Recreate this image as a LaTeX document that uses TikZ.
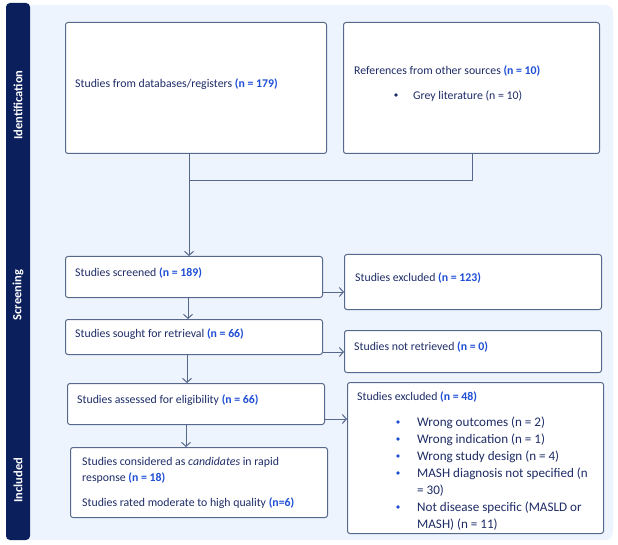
\documentclass[tikz,border=0pt]{standalone}
\usepackage{fontspec}
\setmainfont{Carlito}
\usetikzlibrary{arrows.meta}
\definecolor{navy}{HTML}{0B1F5C}
\definecolor{txt}{HTML}{1E2C66}
\definecolor{nblue}{HTML}{1F4FD6}
\definecolor{edge}{HTML}{56698C}
\definecolor{panel}{HTML}{EEF4FE}
\newcommand{\nv}[1]{\textcolor{nblue}{\bfseries #1}}
\tikzset{
  box/.style={draw=edge, line width=1pt, fill=white, rounded corners=2.5pt, inner sep=0pt, anchor=north west},
  lbl/.style={anchor=west, inner sep=0pt, text=txt, font=\fontsize{11.8}{14}\selectfont, text height=10pt, text depth=1pt},
  lst/.style={lbl, font=\fontsize{13.1}{16}\selectfont, text height=10.5pt, text depth=1pt},
  band/.style={rotate=90, text=white, font=\fontsize{12.5}{14}\selectfont\bfseries, inner sep=0pt},
  conn/.style={draw=edge, line width=1pt},
  arr/.style={conn, -{Straight Barb[length=4pt,width=9pt,line width=1pt]}},
  dot/.style={circle, fill=#1, inner sep=0pt, minimum size=3.6pt}
}
\begin{document}
\begin{tikzpicture}[x=1pt,y=-1pt]
\useasboundingbox (0,0) rectangle (618,545);
\fill[white] (0,0) rectangle (618,545);
% panel and band
\fill[panel, rounded corners=8pt] (20,5) rectangle (613,540);
\fill[navy, rounded corners=4pt] (6,3) rectangle (30,540);
\node[band] (bId) at (18,105) {Identification};
\node[band] (bSc) at (18,295) {Screening};
\node[band] (bIn) at (18,480) {Included};
% boxes
\node[box, minimum width=261pt, minimum height=131pt] (db) at (65,22) {};
\node[box, minimum width=256pt, minimum height=131pt] (oth) at (343,22) {};
\node[box, minimum width=257pt, minimum height=41pt] (scr) at (65,256) {};
\node[box, minimum width=257pt, minimum height=55pt] (ex1) at (344,254) {};
\node[box, minimum width=257pt, minimum height=35pt] (sou) at (65,319) {};
\node[box, minimum width=257pt, minimum height=42pt] (nr) at (344,330) {};
\node[box, minimum width=257pt, minimum height=41pt] (ass) at (67,383) {};
\node[box, minimum width=256pt, minimum height=151pt] (ex2) at (347,382) {};
\node[box, minimum width=257pt, minimum height=70pt] (inc) at (70,447) {};
% texts
\node[lbl] (t1) at (75,83) {Studies from databases/registers \nv{(n = 179)}};
\node[lbl] (t2) at (354,70) {References from other sources \nv{(n = 10)}};
\node[dot=txt] (d0) at (396,95) {};
\node[lbl] (t3) at (413,95) {Grey literature (n = 10)};
\node[lbl] (t4) at (75,272) {Studies screened \nv{(n = 189)}};
\node[lbl] (t5) at (355,277) {Studies excluded \nv{(n = 123)}};
\node[lbl] (t6) at (75,333) {Studies sought for retrieval \nv{(n = 66)}};
\node[lbl] (t7) at (354,346) {Studies not retrieved \nv{(n = 0)}};
\node[lbl] (t8) at (77,399) {Studies assessed for eligibility \nv{(n = 66)}};
\node[lbl] (t9) at (357,396) {Studies excluded \nv{(n = 48)}};
\begin{scope}
\clip (347,382) rectangle (603,529.5);
\foreach \yy/\tt [count=\i] in {422/{Wrong outcomes (n = 2)},439/{Wrong indication (n = 1)},456/{Wrong study design (n = 4)},473/{MASH diagnosis not specified (n},507/{Not disease specific (MASLD or}}{
  \node[dot=nblue] (b\i) at (398,\yy) {};
  \node[lst] (e\i) at (417,\yy) {\tt};
}
\node[lst] (e6) at (417,490) {= 30)};
\node[lst] (e7) at (417,524) {MASH) (n = 11)};
\end{scope}
\node[lbl] (t10) at (82,461) {Studies considered as \textit{candidates} in rapid};
\node[lbl] (t11) at (82,477) {response \nv{(n = 18)}};
\node[lbl] (t12) at (82,502) {Studies rated moderate to high quality \nv{(n=6)}};
% connectors
\coordinate (j1) at (db.south -| 189,0);
\coordinate (j2) at (189,181);
\coordinate (j3) at (472,153);
\coordinate (j4) at (472,181);
\draw[conn] (j3) -- (j4) -- (j2);
\draw[arr] (j1) -- (scr.north -| j1);
\coordinate (s1) at (scr.south -| 188,0);
\draw[arr] (s1) -- (sou.north -| s1);
\coordinate (s2) at (sou.south -| 187,0);
\draw[arr] (s2) -- (ass.north -| s2);
\coordinate (s3) at (ass.south -| 186,0);
\draw[arr] (s3) -- (inc.north -| s3);
\coordinate (h1) at (scr.east |- 0,292);
\draw[arr] (h1) -- (ex1.west |- h1);
\coordinate (h2) at (sou.east |- 0,352);
\draw[arr] (h2) -- (nr.west |- h2);
\coordinate (h3) at (ass.east |- 0,419);
\draw[arr] (h3) -- (ex2.west |- h3);
\end{tikzpicture}
\end{document}
